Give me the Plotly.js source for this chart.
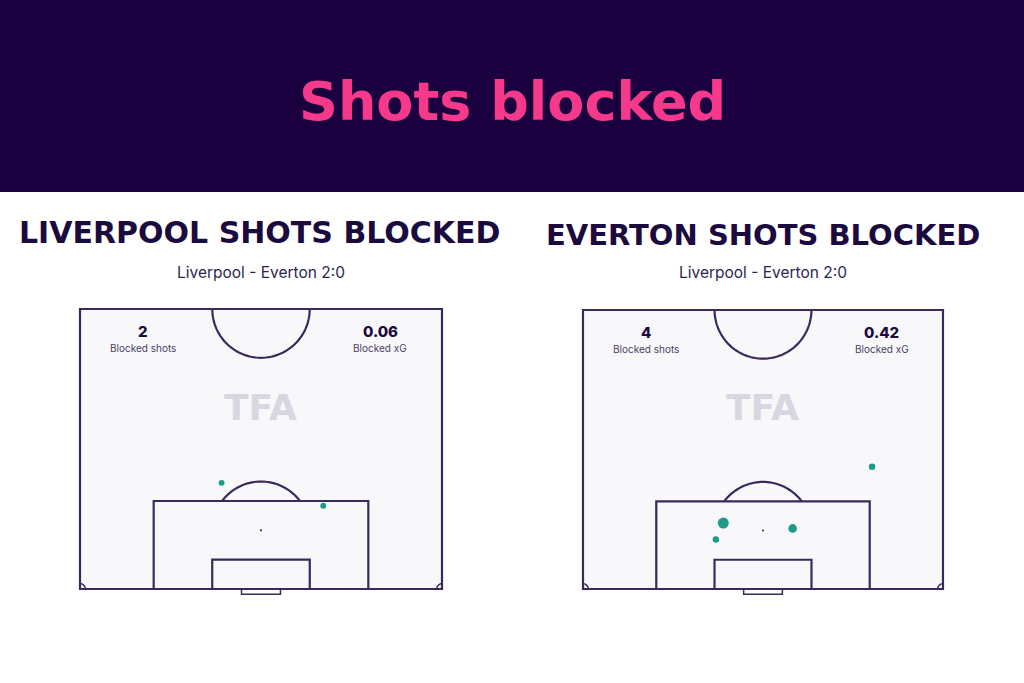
<!DOCTYPE html>
<html>
<head>
<meta charset="utf-8">
<script src="https://cdn.plot.ly/plotly-3.0.1.min.js"></script>
<style>html,body{margin:0;padding:0;background:#fff;}#chart{width:1024px;height:683px;}</style>
</head>
<body>
<div id="chart"></div>
<script>
// ---------- data ----------
const chartTitle = 'Shots blocked';
const panelTitles = ['LIVERPOOL SHOTS BLOCKED', 'EVERTON SHOTS BLOCKED'];
const matchLabels = ['Liverpool - Everton 2:0', 'Liverpool - Everton 2:0'];
const blockedShots = ['2', '4'];
const blockedXG = ['0.06', '0.42'];
const statLabels = ['Blocked shots', 'Blocked xG'];
const watermark = 'TFA';

const liverpoolX = [26.6, 45.7];
const liverpoolY = [19.9, 15.6];
const liverpoolXG = [0.03, 0.03];

const evertonX = [54.6, 26.5, 39.6, 25.1];
const evertonY = [23.0, 12.4, 11.4, 9.3];
const evertonXG = [0.05, 0.20, 0.12, 0.05];

// ---------- styling / geometry ----------
const W = 1024, H = 683;
const PW = 68, PL = 52.5;
const LINE = '#3a2a5c';
const DOT = '#1f9a87';
const pad = 3;
const panels = [
  {x0: 80, x1: 442, y0: 309, y1: 589},
  {x0: 583, x1: 943, y0: 310, y1: 589}
];

function domains(p) {
  const sx = (p.x1 - p.x0) / PW, sy = (p.y1 - p.y0) / PL;
  const left = p.x0 - pad * sx, right = p.x1 + pad * sx;
  const top = p.y0 - pad * sy, bottom = p.y1 + pad * sy;
  return {x: [left / W, right / W], y: [1 - bottom / H, 1 - top / H]};
}

function arcPath(cx, cy, r, a0, a1, n) {
  let d = '';
  for (let i = 0; i <= n; i++) {
    const a = a0 + (a1 - a0) * i / n;
    const x = cx + r * Math.cos(a), y = cy + r * Math.sin(a);
    d += (i === 0 ? 'M' : 'L') + x.toFixed(3) + ',' + y.toFixed(3);
  }
  return d;
}

function pitchShapes(xr, yr) {
  const ln = {color: LINE, width: 2.2};
  const s = [];
  s.push({type: 'rect', xref: xr, yref: yr, x0: 0, x1: PW, y0: 0, y1: PL, line: ln, fillcolor: '#f8f8fa', layer: 'below'});
  s.push({type: 'rect', xref: xr, yref: yr, x0: 34 - 20.16, x1: 34 + 20.16, y0: 0, y1: 16.5, line: ln, layer: 'below'});
  s.push({type: 'rect', xref: xr, yref: yr, x0: 34 - 9.16, x1: 34 + 9.16, y0: 0, y1: 5.5, line: ln, layer: 'below'});
  s.push({type: 'rect', xref: xr, yref: yr, x0: 34 - 3.66, x1: 34 + 3.66, y0: -1.0, y1: 0, line: {color: LINE, width: 1.5}, layer: 'below'});
  s.push({type: 'path', xref: xr, yref: yr, path: arcPath(34, PL, 9.15, Math.PI, 2 * Math.PI, 60), line: ln, layer: 'below'});
  const a = Math.asin((16.5 - 11) / 9.15);
  s.push({type: 'path', xref: xr, yref: yr, path: arcPath(34, 11, 9.15, a, Math.PI - a, 40), line: ln, layer: 'below'});
  s.push({type: 'path', xref: xr, yref: yr, path: arcPath(0, 0, 1.0, 0, Math.PI / 2, 12), line: {color: LINE, width: 1.5}, layer: 'below'});
  s.push({type: 'path', xref: xr, yref: yr, path: arcPath(PW, 0, 1.0, Math.PI / 2, Math.PI, 12), line: {color: LINE, width: 1.5}, layer: 'below'});
  s.push({type: 'circle', xref: xr, yref: yr, x0: 34 - 0.2, x1: 34 + 0.2, y0: 11 - 0.2, y1: 11 + 0.2, line: {width: 0}, fillcolor: LINE, layer: 'below'});
  return s;
}

function sizeFromXG(arr) { return arr.map(v => 5 + v * 30); }

const shotsX = [liverpoolX, evertonX];
const shotsY = [liverpoolY, evertonY];
const shotsXG = [liverpoolXG, evertonXG];

const traces = [0, 1].map(i => ({
  type: 'scatter', mode: 'markers',
  x: shotsX[i], y: shotsY[i],
  xaxis: i === 0 ? 'x' : 'x2', yaxis: i === 0 ? 'y' : 'y2',
  marker: {color: DOT, size: sizeFromXG(shotsXG[i]), opacity: 1, line: {width: 0}},
  hoverinfo: 'skip', showlegend: false
}));

const axBase = {range: [-pad, PW + pad], showgrid: false, zeroline: false, showticklabels: false, ticks: '', showline: false, fixedrange: true};
const ayBase = {range: [-pad, PL + pad], showgrid: false, zeroline: false, showticklabels: false, ticks: '', showline: false, fixedrange: true};
const d0 = domains(panels[0]), d1 = domains(panels[1]);

let shapes = [
  {type: 'rect', xref: 'paper', yref: 'paper', x0: 0, x1: 1, y0: 1 - 192 / H, y1: 1, line: {width: 0}, fillcolor: '#1b0040', layer: 'below'}
];
shapes = shapes.concat(pitchShapes('x', 'y'), pitchShapes('x2', 'y2'));

const annotations = [];
annotations.push({xref: 'paper', yref: 'paper', x: 512 / W, y: 1 - 102 / H, text: chartTitle, showarrow: false, xanchor: 'center', yanchor: 'middle',
  font: {family: 'DejaVu Sans, sans-serif', size: 54, color: '#f7398b', weight: 700}});
const titleCx = [259, 763], titleCy = [232, 235], titleSize = [30, 29];
const subCx = [261, 763];
[0, 1].forEach(i => {
  annotations.push({xref: 'paper', yref: 'paper', x: titleCx[i] / W, y: 1 - titleCy[i] / H, text: panelTitles[i], showarrow: false, xanchor: 'center', yanchor: 'middle',
    font: {family: 'DejaVu Sans, sans-serif', size: titleSize[i], color: '#1b0a3d', weight: 700}});
  annotations.push({xref: 'paper', yref: 'paper', x: subCx[i] / W, y: 1 - 273 / H, text: matchLabels[i], showarrow: false, xanchor: 'center', yanchor: 'middle',
    font: {family: 'Inter, sans-serif', size: 15.5, color: '#2d1f4f'}});
  const xr = i === 0 ? 'x' : 'x2', yr = i === 0 ? 'y' : 'y2';
  annotations.push({xref: xr, yref: yr, x: 11.9, y: 48.2, text: blockedShots[i], showarrow: false, xanchor: 'center', yanchor: 'middle',
    font: {family: 'Inter, sans-serif', size: 15, color: '#1b0a3d', weight: 800}});
  annotations.push({xref: xr, yref: yr, x: 11.9, y: 45.1, text: statLabels[0], showarrow: false, xanchor: 'center', yanchor: 'middle',
    font: {family: 'Inter, sans-serif', size: 10, color: '#4a3d66'}});
  annotations.push({xref: xr, yref: yr, x: 56.4, y: 48.2, text: blockedXG[i], showarrow: false, xanchor: 'center', yanchor: 'middle',
    font: {family: 'Inter, sans-serif', size: 15, color: '#1b0a3d', weight: 800}});
  annotations.push({xref: xr, yref: yr, x: 56.4, y: 45.1, text: statLabels[1], showarrow: false, xanchor: 'center', yanchor: 'middle',
    font: {family: 'Inter, sans-serif', size: 10, color: '#4a3d66'}});
  annotations.push({xref: xr, yref: yr, x: 34, y: 34.1, text: watermark, showarrow: false, xanchor: 'center', yanchor: 'middle',
    font: {family: 'DejaVu Sans, sans-serif', size: 36, color: '#d8d6e0', weight: 800}});
});

const layout = {
  width: W, height: H,
  margin: {l: 0, r: 0, t: 0, b: 0},
  paper_bgcolor: '#ffffff', plot_bgcolor: 'rgba(0,0,0,0)',
  showlegend: false,
  xaxis: Object.assign({}, axBase, {domain: d0.x, anchor: 'y'}),
  yaxis: Object.assign({}, ayBase, {domain: d0.y, anchor: 'x'}),
  xaxis2: Object.assign({}, axBase, {domain: d1.x, anchor: 'y2'}),
  yaxis2: Object.assign({}, ayBase, {domain: d1.y, anchor: 'x2'}),
  shapes: shapes,
  annotations: annotations
};

Plotly.newPlot('chart', traces, layout, {displayModeBar: false, staticPlot: true});
</script>
</body>
</html>
